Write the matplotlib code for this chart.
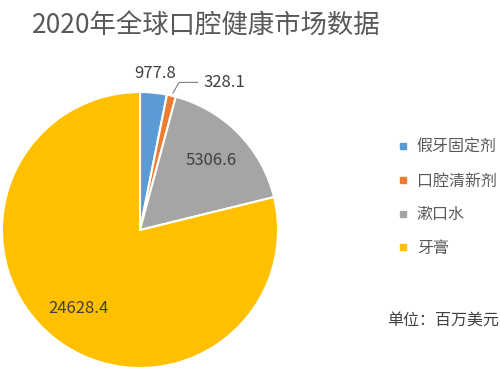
import numpy as np
import matplotlib
matplotlib.use("Agg")
import matplotlib.pyplot as plt
from matplotlib.lines import Line2D

plt.rcParams['font.family'] = ['Noto Sans CJK SC', 'DejaVu Sans']

categories = ['假牙固定剂', '口腔清新剂', '漱口水', '牙膏']
values = [977.8, 328.1, 5306.6, 24628.4]
value_labels = ['977.8', '328.1', '5306.6', '24628.4']
colors = ['#5B9BD5', '#ED7D31', '#A5A5A5', '#FFC000']

fig = plt.figure(figsize=(5, 3.71), dpi=100)
fig.text(0.064, 0.93, '2020年全球口腔健康市场数据', fontsize=19, color='#595959',
         va='center', ha='left')

ax = fig.add_axes([0.004, 0.008, 0.552, 0.744])
wedges, _ = ax.pie(values, colors=colors, startangle=90, counterclock=False,
                   wedgeprops=dict(edgecolor='white', linewidth=1.5))
ax.set_xlim(-1, 1)
ax.set_ylim(-1, 1)
ax.set_aspect('equal')

label_color = '#404040'
for i, w in enumerate(wedges):
    mid = np.deg2rad((w.theta1 + w.theta2) / 2)
    if i == 0:
        r = 1.14
        ax.text(r * np.cos(mid), r * np.sin(mid), value_labels[i], fontsize=12,
                color=label_color, ha='center', va='center')
    elif i == 1:
        ax.annotate(value_labels[i], xy=(1.0 * np.cos(mid), 1.0 * np.sin(mid)),
                    xytext=(0.46, 1.07), fontsize=12, color=label_color,
                    ha='left', va='center',
                    arrowprops=dict(arrowstyle='-', color='#7F7F7F', lw=0.8,
                                    connectionstyle='angle,angleA=0,angleB=60,rad=0'))
    else:
        r = 0.72
        ax.text(r * np.cos(mid), r * np.sin(mid), value_labels[i], fontsize=12,
                color=label_color, ha='center', va='center')

handles = [Line2D([0], [0], marker='s', linestyle='', markersize=5,
                  markerfacecolor=c, markeredgecolor=c) for c in colors]
fig.legend(handles, categories, loc='upper left', bbox_to_anchor=(0.765, 0.665),
           frameon=False, fontsize=11.5, labelcolor='#595959', handlelength=0.8,
           handletextpad=0.45, labelspacing=1.05)

fig.text(0.774, 0.137, '单位：百万美元', fontsize=11.5, color='#404040',
         va='center', ha='left')

fig.savefig('out.png', dpi=100)
